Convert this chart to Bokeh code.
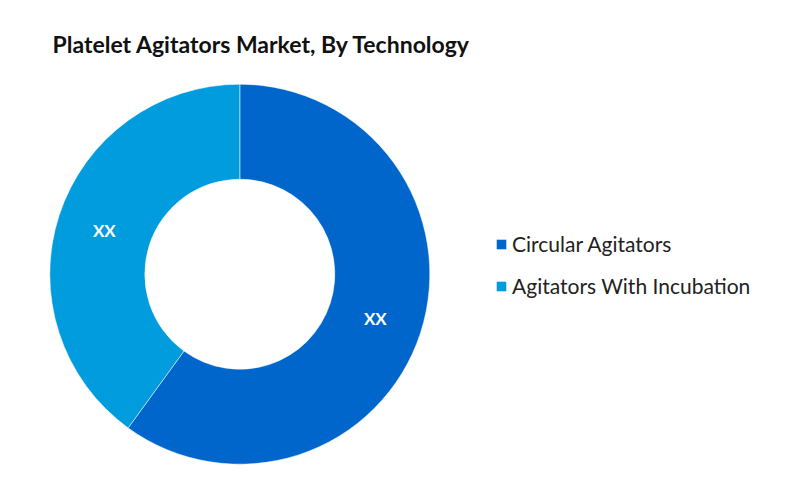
import numpy as np
from bokeh.plotting import figure
from bokeh.models import ColumnDataSource, Legend, LegendItem, Label, Range1d
from bokeh.core.properties import value
from bokeh.embed import file_html
from bokeh.resources import INLINE

title_text = "Platelet Agitators Market, By Technology"
categories = ["Circular Agitators", "Agitators With Incubation"]
shares = [60, 40]
labels = ["XX", "XX"]
colors = ["#0066CC", "#019CDE"]

W, H = 784, 483
p = figure(width=W, height=H, output_backend="svg", toolbar_location=None,
           x_range=Range1d(0, W), y_range=Range1d(0, H), min_border=0)
p.axis.visible = False
p.grid.visible = False
p.outline_line_color = None

cx, cy = 239.3, 209.3
r_in, r_out = 95, 190

fr = np.array(shares, dtype=float) / sum(shares)
ends = np.pi / 2 - 2 * np.pi * np.concatenate([[0], np.cumsum(fr)[:-1]])
starts = ends - 2 * np.pi * fr
mids = (starts + ends) / 2
r_mid = (r_in + r_out) / 2
src = ColumnDataSource(dict(
    cat=categories, start=starts, end=ends, color=colors, label=labels,
    lx=cx + r_mid * np.cos(mids), ly=cy + r_mid * np.sin(mids),
))
p.annular_wedge(x=cx, y=cy, inner_radius=r_in, outer_radius=r_out,
                start_angle="start", end_angle="end", fill_color="color",
                line_color="white", line_width=0.5, source=src)
p.text(x="lx", y="ly", text="label", source=src, text_color="white",
       text_font=value("Lato"), text_font_style="bold", text_font_size="17px",
       text_align="center", text_baseline="middle")

items = []
for c, col in zip(categories, colors):
    r = p.rect(x=np.array([np.nan]), y=np.array([np.nan]), width=1, height=1,
               fill_color=col, line_color=None)
    items.append(LegendItem(label=c, renderers=[r]))
legend = Legend(items=items, location=(495, 185), glyph_width=12, glyph_height=12,
                label_text_font="Lato", label_text_font_size="21px",
                label_text_color="#222222", label_height=24, spacing=17,
                label_standoff=5, padding=0, margin=0, border_line_color=None,
                background_fill_alpha=0)
p.add_layout(legend, "center")

p.add_layout(Label(x=52, y=H - 43, x_units="screen", y_units="screen",
                   text=title_text, text_font="Lato", text_font_style="bold",
                   text_font_size="23px", text_color="#111111",
                   text_baseline="middle"))

open("out.html", "w").write(file_html(p, INLINE))
